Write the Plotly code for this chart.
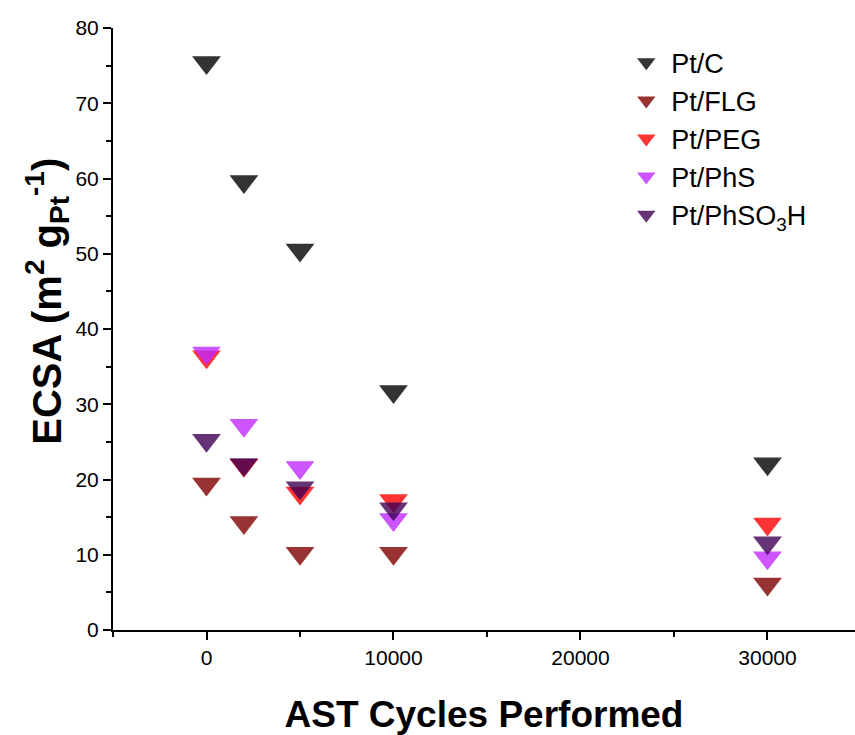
import plotly.graph_objects as go

cycles = [0, 2000, 5000, 10000, 30000]
series_names = ["Pt/C", "Pt/FLG", "Pt/PEG", "Pt/PhS", "Pt/PhSO<sub>3</sub>H"]
pt_c = [75.4, 59.6, 50.5, 31.7, 22.1]
pt_flg = [19.4, 14.3, 10.2, 10.2, 6.1]
pt_peg = [36.3, 21.9, 18.2, 17.2, 14.1]
pt_phs = [36.8, 27.2, 21.6, 14.7, 9.6]
pt_phso3h = [25.2, 22.0, 18.9, 16.1, 11.6]
series_values = [pt_c, pt_flg, pt_peg, pt_phs, pt_phso3h]
colors = ["rgba(0,0,0,0.8)", "rgba(128,0,0,0.8)", "rgba(255,0,0,0.8)",
          "rgba(191,42,255,0.8)", "rgba(64,0,85,0.8)"]

x_ticks = [0, 10000, 20000, 30000]
y_ticks = [0, 10, 20, 30, 40, 50, 60, 70, 80]

fig = go.Figure()
for name, vals, col in zip(series_names, series_values, colors):
    fig.add_trace(go.Scatter(
        x=cycles, y=vals, mode="markers", name=name,
        marker=dict(symbol="triangle-down", size=25, color=col, line=dict(width=0)),
    ))

font_family = "Liberation Sans, Arial, sans-serif"
y_title = "<b>&nbsp;&nbsp;&nbsp;&nbsp;&nbsp;ECSA (m<sup>2</sup> g<sub>Pt</sub><sup>-1</sup>)</b>"
fig.update_layout(
    width=855, height=735,
    margin=dict(l=113, r=0, t=28, b=105),
    plot_bgcolor="white", paper_bgcolor="white",
    font=dict(family=font_family, color="black"),
    showlegend=True,
    legend=dict(
        x=0.685, y=0.983, xanchor="left", yanchor="top",
        font=dict(size=27, family=font_family, color="black"),
        bgcolor="rgba(0,0,0,0)", itemsizing="trace", itemwidth=40,
    ),
    xaxis=dict(
        range=[-5000, 34680], tickvals=x_ticks, ticktext=[str(v) for v in x_ticks],
        showgrid=False, zeroline=False, showline=True, linecolor="black", linewidth=2,
        ticks="outside", ticklen=8, tickwidth=2, tickcolor="black",
        tickfont=dict(size=21, family=font_family),
        minor=dict(tickvals=[-5000, 5000, 15000, 25000], ticks="outside", ticklen=5, tickwidth=2, tickcolor="black"),
        title=dict(text="<b>AST Cycles Performed</b>", font=dict(size=37, family=font_family), standoff=36),
    ),
    yaxis=dict(
        range=[0, 80], tickvals=y_ticks,
        showgrid=False, zeroline=False, showline=True, linecolor="black", linewidth=2,
        ticks="outside", ticklen=8, tickwidth=2, tickcolor="black",
        tickfont=dict(size=21, family=font_family),
        minor=dict(dtick=5, ticks="outside", ticklen=5, tickwidth=2, tickcolor="black"),
        title=dict(text=y_title, font=dict(size=40, family=font_family), standoff=0),
    ),
)

fig.write_html("out.html")
